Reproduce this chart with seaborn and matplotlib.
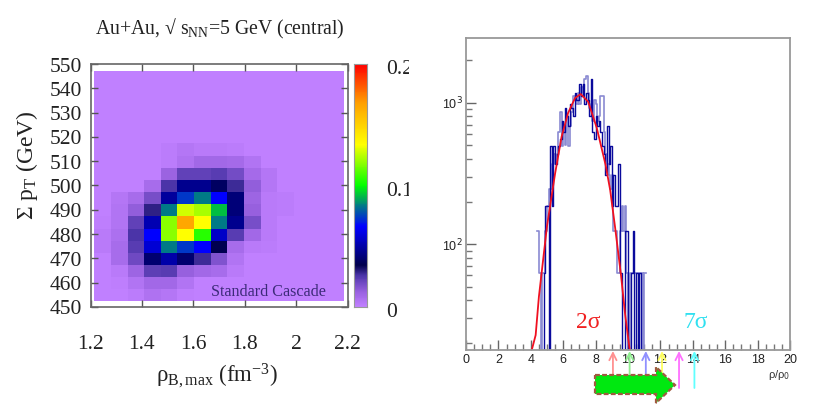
import numpy as np
import pandas as pd
import seaborn as sns
import matplotlib
matplotlib.use("Agg")
import matplotlib.pyplot as plt
from matplotlib.colors import LinearSegmentedColormap
from matplotlib.patches import Polygon, Rectangle
from matplotlib.transforms import IdentityTransform, ScaledTranslation
from matplotlib.ticker import FixedLocator, NullFormatter

# left panel, rows from the top, 0.2 is the top of the colour scale
heat = [
    [0] * 15,
    [0] * 15,
    [0] * 15,
    [0] * 15,
    [0] * 15,
    [0] * 15,
    [0, 0, 0, 0, .002, .004, .003, .003, .002, 0, 0, 0, 0, 0, 0],
    [0, 0, 0, 0, .002, .006, .010, .010, .009, .005, 0, 0, 0, 0, 0],
    [0, 0, 0, 0, .012, .022, .022, .024, .019, .009, .004, 0, 0, 0, 0],
    [0, 0, 0, .008, .026, .046, .046, .038, .028, .014, .004, 0, 0, 0, 0],
    [0, .004, .008, .018, .048, .074, .083, .066, .042, .011, .003, .002, 0, 0, 0],
    [0, .005, .014, .029, .083, .128, .122, .092, .042, .013, .003, .002, 0, 0, 0],
    [.001, .005, .022, .052, .118, .165, .134, .083, .046, .018, .003, 0, 0, 0, 0],
    [.003, .007, .026, .066, .118, .134, .105, .056, .024, .010, .003, 0, 0, 0, 0],
    [.003, .008, .024, .058, .083, .074, .066, .035, .008, .003, .002, 0, 0, 0, 0],
    [0, .008, .020, .040, .050, .040, .028, .017, .005, 0, 0, 0, 0, 0, 0],
    [0, .003, .011, .023, .024, .013, .010, .008, .003, 0, 0, 0, 0, 0, 0],
    [0, .001, .005, .010, .010, .005, 0, 0, 0, 0, 0, 0, 0, 0, 0],
    [0, 0, .002, .006, .004, .001, 0, 0, 0, 0, 0, 0, 0, 0, 0],
]
heat_x_ticks = [1.2, 1.4, 1.6, 1.8, 2, 2.2]
heat_y_ticks = [450, 460, 470, 480, 490, 500, 510, 520, 530, 540, 550]

# right panel, one value per 0.1 wide bin starting at 4.4
hist_start = 4.4
hist_dark = [0, 0, 0, 0, 62, 185, 185, 0, 494, 185, 494, 370, 432, 494, 555, 740, 617, 925, 802, 679,
             987, 925, 802, 1172, 1049, 1049, 1357, 1110, 1357, 987, 1172, 1049, 802, 1481, 617, 555,
             802, 679, 740, 617, 494, 432, 308, 679, 370, 494, 185, 308, 185, 185, 370, 62, 0, 0,
             123, 123, 0, 0, 62, 123, 0, 62, 0, 62, 0, 0, 0]
hist_light = [123, 62, 0, 62, 62, 123, 185, 247, 247, 370, 432, 370, 432, 617, 864, 494, 679, 500, 802, 494,
              679, 864, 1110, 1049, 987, 1172, 987, 1296, 1172, 1481, 1542, 1172, 925, 987, 740, 1049,
              987, 740, 802, 1110, 1110, 617, 432, 370, 308, 247, 308, 123, 123, 62, 62, 123, 185, 123,
              185, 62, 0, 62, 62, 62, 62, 62, 62, 62, 62, 0, 62]
fit_x = [4.06, 4.3, 4.5, 5.0, 5.5, 5.9, 6.3, 6.73, 7.08, 7.54, 8.07, 8.62, 8.9, 9.2, 9.57, 9.82, 10.1]
fit_y = [17.8, 22.7, 42.4, 134, 316, 574, 845, 1079, 1152, 1017, 665, 362, 241, 132, 60, 32, 18]

arrow_x = [9.07, 10.1, 11.1, 12.1, 13.15, 14.1]
arrow_colors = ["#ff9090", "#90ee90", "#9090ff", "#ffff60", "#ff70ff", "#60ffff"]

serif = "Liberation Serif"
plt.rcParams["font.family"] = serif
plt.rcParams["mathtext.fontset"] = "custom"
plt.rcParams["mathtext.rm"] = serif
plt.rcParams["mathtext.it"] = serif + ":italic"
plt.rcParams["mathtext.default"] = "rm"

W, H = 830, 407
fig = plt.figure(figsize=(W / 100, H / 100), dpi=100)


def px_axes(x0, y0, x1, y1):
    # pixel box measured on the reference, y counted from the top
    return fig.add_axes([x0 / W, 1 - y1 / H, (x1 - x0) / W, (y1 - y0) / H])


# ---- left panel
ax1 = px_axes(90.5, 64, 347.5, 307)
cax = px_axes(354, 64, 367, 307)

cmap = LinearSegmentedColormap.from_list("root", [
    (0, "#c080ff"), (.06, "#9a62e0"), (.13, "#4a34a8"), (.17, "#00004c"), (.25, "#0000a8"),
    (.33, "#0000ff"), (.42, "#008080"), (.5, "#00ff00"), (.67, "#ffff00"), (.84, "#ffa000"), (1, "#ff0000")])

sns.heatmap(pd.DataFrame(heat), ax=ax1, cbar_ax=cax, cmap=cmap, vmin=0, vmax=0.2, linewidths=0)

# heatmap works in cell numbers, so the real axes are mapped on to them
x_first, x_step = 1.215, 0.0647
y_top, y_step = 547.3, 5.0


def cell_x(v):
    return (np.asarray(v, dtype=float) - x_first) / x_step


def cell_y(v):
    return (y_top - np.asarray(v, dtype=float)) / y_step


ax1.set_xlim(cell_x(1.2), cell_x(2.2))
ax1.set_ylim(cell_y(450), cell_y(550))
ax1.set_xticks(cell_x(heat_x_ticks))
ax1.set_xticklabels([f"{t:g}" for t in heat_x_ticks], rotation=0)
ax1.set_yticks(cell_y(heat_y_ticks))
ax1.set_yticklabels([str(t) for t in heat_y_ticks], rotation=0)
ax1.tick_params(direction="in", length=5, width=1, color="#555555", top=True, right=True,
                labelsize=15.5, labelcolor="#222222", pad=6)
ax1.tick_params(axis="x", pad=20)
down = ScaledTranslation(0, -3 / 100, fig.dpi_scale_trans)
for lab in ax1.get_yticklabels():
    lab.set_transform(lab.get_transform() + down)
for s in ax1.spines.values():
    s.set_visible(True)
    s.set_color("#666666")
    s.set_linewidth(1.2)
ax1.set_xlabel("ρ$_{\\mathrm{B,max}}$ (fm$^{-3}$)", fontsize=16.5, color="#222222")
ax1.xaxis.set_label_coords(217 / W, 1 - 362 / H, transform=fig.transFigure)
ax1.set_ylabel("Σ p$_{\\mathrm{T}}$ (GeV)", fontsize=17, color="#222222")
ax1.yaxis.set_label_coords(40 / W, 1 - 165 / H, transform=fig.transFigure)
ax1.text(cell_x(1.893), cell_y(456), "Standard Cascade", fontsize=11.6, color="#3c2a78",
         ha="center", va="center")
fig.text(220 / W, 1 - 29 / H, "Au+Au, √ s$_{\\mathrm{NN}}$=5 GeV (central)", fontsize=14.2,
         color="#222222", ha="center", va="center")

cax.yaxis.set_ticks([0, 0.1, 0.2])
cax.set_yticklabels(["0", "0.1", "0.2"])
cax.tick_params(length=0, labelsize=15.5, labelcolor="#222222", pad=14)
for lab in cax.get_yticklabels():
    lab.set_transform(lab.get_transform() + down)
for s in cax.spines.values():
    s.set_visible(True)
    s.set_color("#999999")

# the colour bar labels are cut off at the right in the original
fig.add_artist(Rectangle((408.5, H - 200), 25, 150, transform=IdentityTransform(), facecolor="white",
                         edgecolor="none", zorder=10))

# ---- right panel
ax2 = px_axes(466, 38, 790, 350)
ax2.set_yscale("log")
hist_end = hist_start + 0.1 * len(hist_dark)
centers = hist_start + 0.05 + 0.1 * np.arange(len(hist_dark))
sns.histplot(x=centers, weights=np.array(hist_light), binwidth=0.1, binrange=(hist_start, hist_end),
             element="step", fill=False, ax=ax2, color="#8a8ad2", linewidth=1.2)
sns.histplot(x=centers, weights=np.array(hist_dark), binwidth=0.1, binrange=(hist_start, hist_end),
             element="step", fill=False, ax=ax2, color="#0a0a9c", linewidth=1.0)
sns.lineplot(x=fit_x, y=fit_y, ax=ax2, color="#f01020", linewidth=1.3, errorbar=None, sort=False)

ax2.set_xlim(0, 20)
ax2.set_ylim(17.8, 2870)
ax2.set_xticks(np.arange(0, 21, 2))
ax2.xaxis.set_minor_locator(FixedLocator(np.arange(0, 20.5, 0.5)))
ax2.set_yticks([100, 1000])
ax2.set_yticklabels(["10$^{2}$", "10$^{3}$"], fontfamily="Liberation Sans", math_fontfamily="dejavusans")
ax2.yaxis.set_minor_locator(FixedLocator([20, 30, 40, 50, 60, 70, 80, 90, 200, 300, 400, 500, 600, 700, 800, 900, 2000]))
ax2.yaxis.set_minor_formatter(NullFormatter())
ax2.tick_params(which="major", direction="in", length=7.5, width=1, color="#666666", labelsize=9,
                labelcolor="#222222", pad=2.5)
ax2.tick_params(which="minor", direction="in", length=4, width=1, color="#777777")
ax2.tick_params(axis="x", which="major", pad=3)
for lab in ax2.get_xticklabels():
    lab.set_fontfamily("Liberation Sans")
for s in ax2.spines.values():
    s.set_color("#999999")
    s.set_linewidth(1.3)
ax2.set_xlabel("")
ax2.set_ylabel("")

fig.text(790 / W, 1 - 375 / H, "ρ/ρ$_{\\mathrm{0}}$", fontsize=8, color="#333333", ha="right", va="center",
         fontfamily="Liberation Sans", math_fontfamily="dejavusans")
fig.text(588 / W, 1 - 322 / H, "2σ", fontsize=17, color="#f02020", ha="center", va="center")
fig.text(696 / W, 1 - 322 / H, "7σ", fontsize=17, color="#30e0f0", ha="center", va="center")

# sigma arrows below the axis
for x, c in zip(arrow_x, arrow_colors):
    y_end = 376 if x < 13 else 388
    ax2.annotate("", xy=(x, H - 351), xytext=(x, H - y_end), xycoords=("data", "figure pixels"),
                 textcoords=("data", "figure pixels"), annotation_clip=False,
                 arrowprops=dict(arrowstyle="->", color=c, lw=1.3, shrinkA=0, shrinkB=0, mutation_scale=13))

green = [(595, 375), (656, 375), (656, 367), (675, 385), (656, 403), (656, 394), (595, 394)]
fig.add_artist(Polygon([(x, H - y) for x, y in green], closed=True, transform=IdentityTransform(),
                       facecolor="#00e810", edgecolor="#a05a40", linewidth=1.6, linestyle=(0, (2.2, 1))))

fig.savefig("out.png", dpi=100)
